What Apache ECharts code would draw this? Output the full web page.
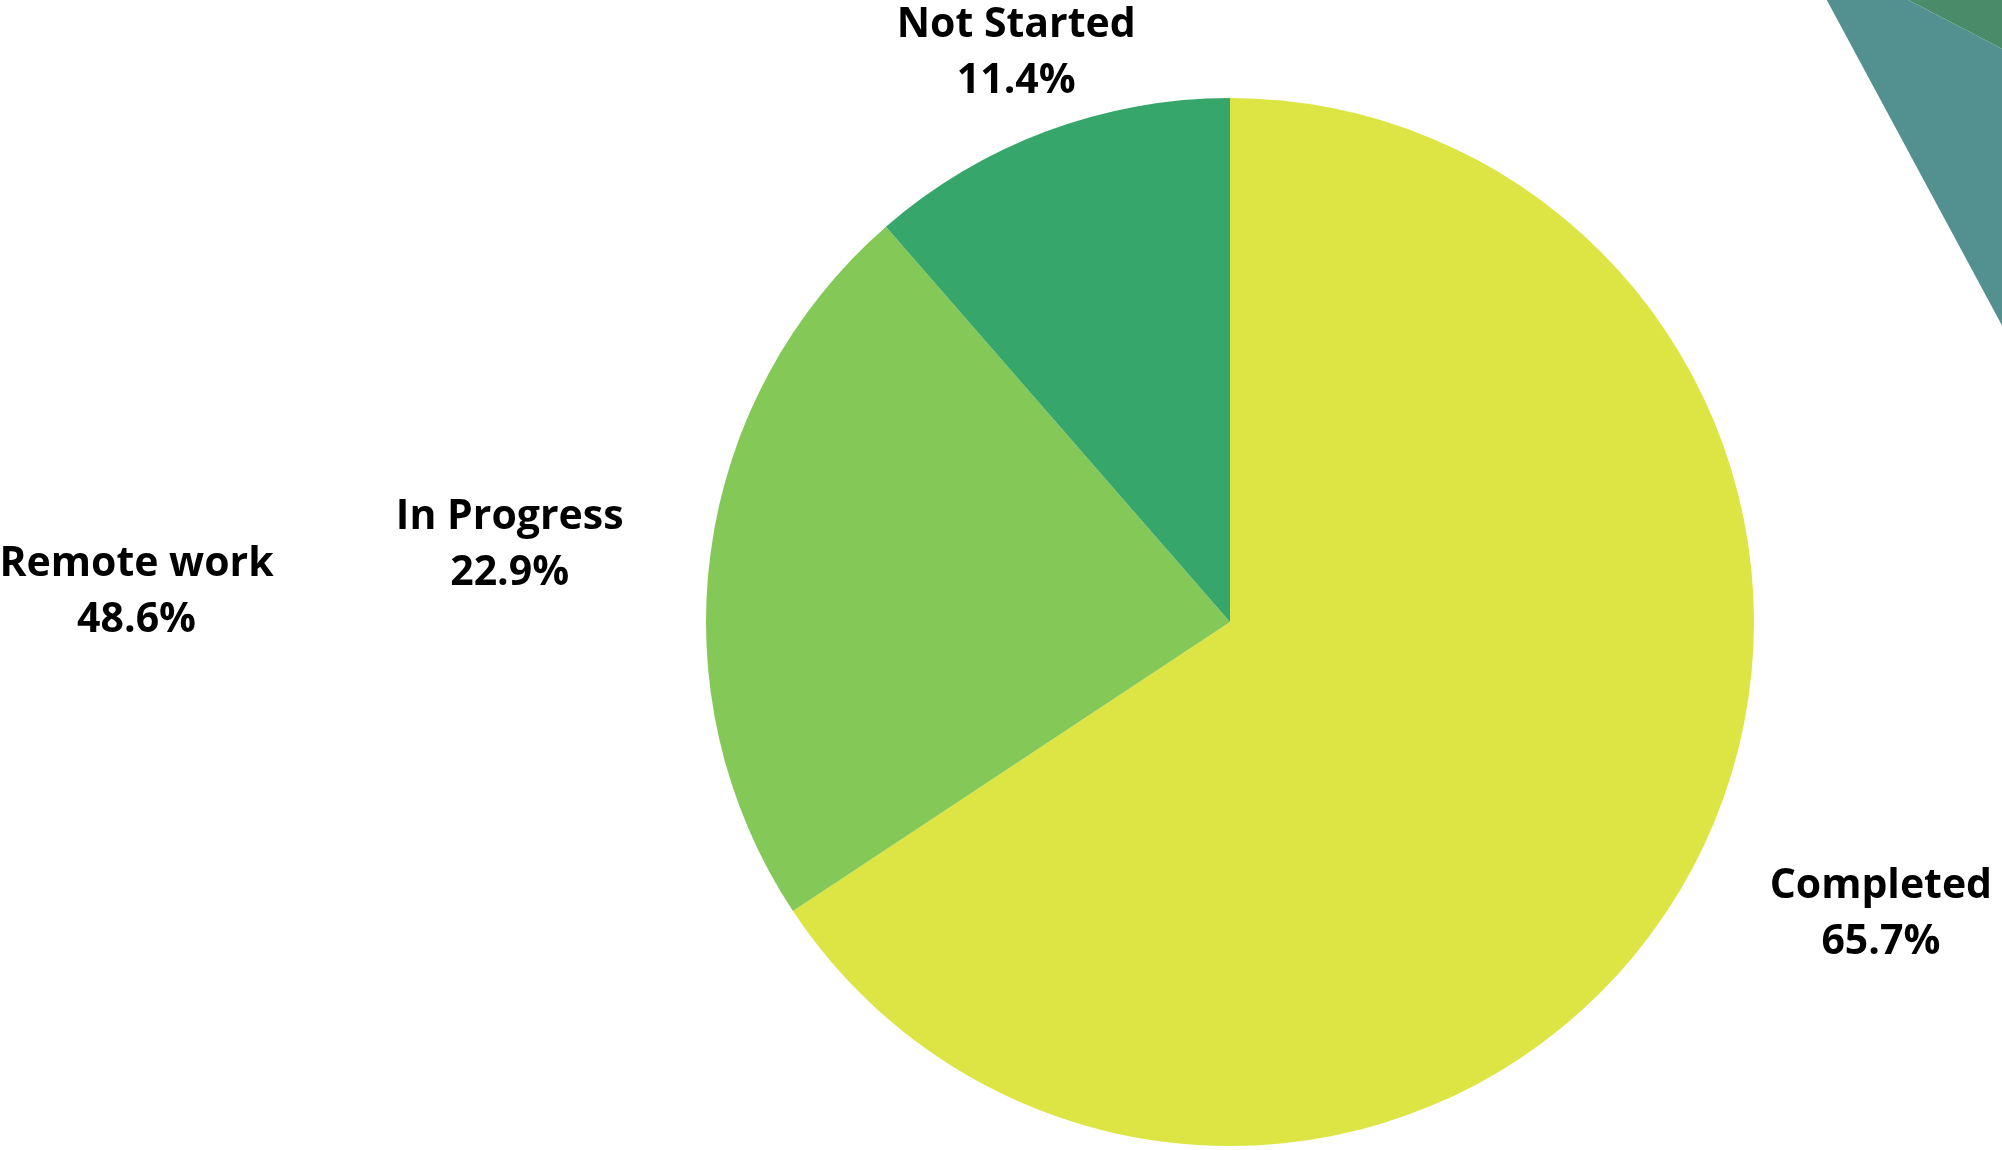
<!DOCTYPE html>
<html>
<head>
<meta charset="utf-8">
<script src="https://cdn.jsdelivr.net/npm/echarts@6/dist/echarts.min.js"></script>
<style>
  html, body { margin: 0; padding: 0; background: #fff; }
  #chart { width: 2002px; height: 1150px; }
</style>
</head>
<body>
<div id="chart"></div>
<script>
// task status pie (the big one)
const statusNames = ['Completed', 'In Progress', 'Not Started'];
const statusValues = [65.7, 22.9, 11.4];
const statusColors = ['#dce544', '#84c857', '#36a66a'];

// work mode pie (mostly off the canvas, top right)
const modeNames = ['Remote work', 'Hybrid', 'On-site'];
const modeValues = [48.6, 41.9, 9.5];
const modeColors = ['#ffffff', '#4a8c6a', '#52918f'];

const labelFont = {
  fontFamily: 'Open Sans',
  fontWeight: 'bold',
  fontSize: 41,
  lineHeight: 56,
  color: '#000'
};

function fmt(p) {
  return '{t|' + p.name + '}\n{t|' + p.value.toFixed(1) + '%}';
}

let chart = echarts.init(document.getElementById('chart'));

let option = {
  backgroundColor: '#fff',
  animation: false,
  series: [
    {
      name: 'Work mode',
      type: 'pie',
      center: [1795, -59],
      radius: 700,
      startAngle: -61.7,
      clockwise: true,
      avoidLabelOverlap: false,
      silent: true,
      itemStyle: { borderWidth: 0 },
      label: {
        show: true,
        position: 'outside',
        formatter: fmt,
        rich: { t: Object.assign({ align: 'center' }, labelFont) }
      },
      labelLine: { show: false, length: 572, length2: 424 },
      data: modeNames.map((n, i) => ({
        name: n,
        value: modeValues[i],
        itemStyle: { color: modeColors[i] },
        label: { show: i === 0 }
      }))
    },
    {
      name: 'Status',
      type: 'pie',
      center: [1230, 622],
      radius: 524,
      startAngle: 90,
      clockwise: true,
      avoidLabelOverlap: false,
      silent: true,
      itemStyle: { borderWidth: 0 },
      label: {
        show: true,
        position: 'outside',
        distanceToLabelLine: 5,
        formatter: fmt,
        rich: { t: Object.assign({ align: 'center' }, labelFont) }
      },
      labelLine: { show: false, length: 83, length2: 0 },
      // top label sits centred over its anchor, side labels a bit lower
      labelLayout: function (params) {
        if (params.dataIndex === 2) return { align: 'center', dx: 4 };
        return { dy: 5 };
      },
      data: statusNames.map((n, i) => ({
        name: n,
        value: statusValues[i],
        itemStyle: { color: statusColors[i] }
      }))
    }
  ]
};

chart.setOption(option);
window.addEventListener('resize', () => chart.resize());
</script>
</body>
</html>
